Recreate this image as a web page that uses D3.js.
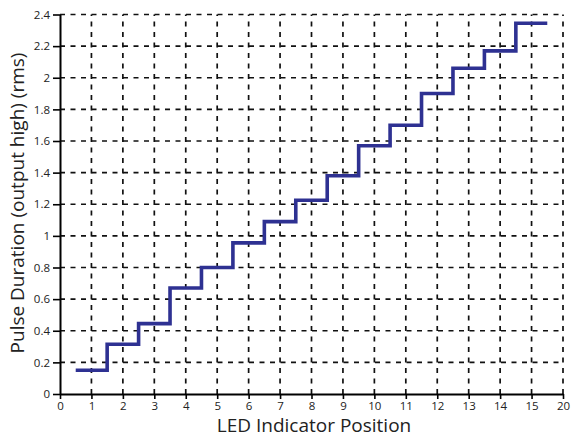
<!DOCTYPE html>
<html><head><meta charset="utf-8">
<script src="https://cdn.jsdelivr.net/npm/d3@7"></script>
<style>body{margin:0;background:#fff}svg{display:block}</style>
</head><body>
<script>
const positions = [1,2,3,4,5,6,7,8,9,10,11,12,13,14,15];
const durations = [0.15,0.315,0.445,0.67,0.80,0.956,1.09,1.225,1.38,1.57,1.70,1.90,2.06,2.17,2.345];
const xTickLabels = ["0","1","2","3","4","5","6","7","8","9","10","11","12","13","14","15","20"];
const yTicks = [0,0.2,0.4,0.6,0.8,1,1.2,1.4,1.6,1.8,2,2.2,2.4];

const W=571,H=437;
const svg=d3.select("body").append("svg").attr("width",W).attr("height",H);
const x=d3.scaleLinear().domain([0,16]).range([60,563]);
const y=d3.scaleLinear().domain([0,2.4]).range([394,14.5]);
const font="'Open Sans', 'Liberation Sans', sans-serif";

// grid
const g=svg.append("g");
g.selectAll(".vg").data(d3.range(1,17)).join("line")
 .attr("x1",d=>x(d)).attr("x2",d=>x(d)).attr("y1",y(0)).attr("y2",y(2.4))
 .attr("stroke","#111").attr("stroke-width",1.7).attr("stroke-dasharray","5,5.5");
g.selectAll(".hg").data(yTicks.slice(1)).join("line")
 .attr("x1",x(0)).attr("x2",x(16)).attr("y1",d=>y(d)).attr("y2",d=>y(d))
 .attr("stroke","#111").attr("stroke-width",1.7).attr("stroke-dasharray","5,5.5");

// step line
const pts=[];
positions.forEach((p,i)=>{pts.push([p-0.5,durations[i]]);pts.push([p+0.5,durations[i]]);});
svg.append("path").datum(pts)
 .attr("d",d3.line().x(d=>x(d[0])).y(d=>y(d[1])))
 .attr("fill","none").attr("stroke","#2e3192").attr("stroke-width",3.6).attr("stroke-linejoin","miter");

// axes
const xAxis=svg.append("g").attr("transform",`translate(0,${y(0)})`)
 .call(d3.axisBottom(x).tickValues(d3.range(0,17)).tickFormat((d,i)=>xTickLabels[i]).tickSize(5).tickSizeOuter(0).tickPadding(3));
const yAxis=svg.append("g").attr("transform",`translate(${x(0)},0)`)
 .call(d3.axisLeft(y).tickValues(yTicks).tickFormat(d=>String(d)).tickSize(7).tickSizeOuter(0).tickPadding(3));
[xAxis,yAxis].forEach(a=>{
  a.select(".domain").attr("stroke","#000").attr("stroke-width",2);
  a.selectAll(".tick line").attr("stroke","#000").attr("stroke-width",1.6);
  a.selectAll(".tick text").attr("fill","#222").style("font-family",font).style("font-size","11.5px");
});

svg.append("text").attr("x",314).attr("y",432).attr("text-anchor","middle")
 .style("font-family",font).style("font-size","19px").attr("fill","#222").text("LED Indicator Position");
svg.append("text").attr("transform","translate(24,203) rotate(-90)").attr("text-anchor","middle")
 .style("font-family",font).style("font-size","19px").attr("fill","#222").text("Pulse Duration (output high) (rms)");
</script>
</body></html>
